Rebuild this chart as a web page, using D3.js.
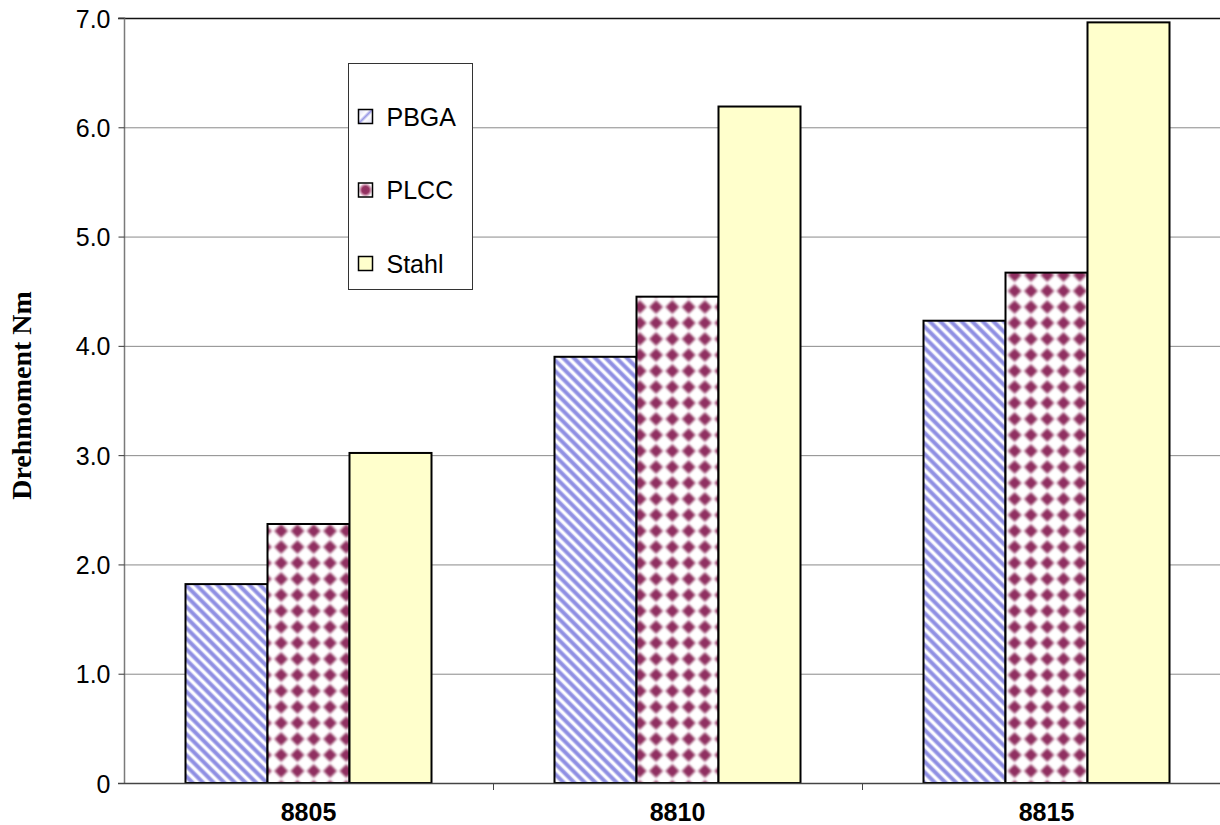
<!DOCTYPE html>
<html>
<head>
<meta charset="utf-8">
<script src="https://cdn.jsdelivr.net/npm/d3@7"></script>
<style>
  html, body { margin: 0; padding: 0; background: #fff; }
  svg { display: block; }
</style>
</head>
<body>
<svg id="chart" width="1220" height="825"></svg>
<script>
// Torque per test board type
const categories = ["8805", "8810", "8815"];
const seriesNames = ["PBGA", "PLCC", "Stahl"];
const pbgaValues  = [1.82, 3.90, 4.23];
const plccValues  = [2.37, 4.45, 4.67];
const stahlValues = [3.02, 6.19, 6.96];
const yTicks = [0, 1, 2, 3, 4, 5, 6, 7];
const yTitle = "Drehmoment Nm";

const seriesValues = [pbgaValues, plccValues, stahlValues];

const svg = d3.select("#chart");
const W = 1220, H = 825;
const plot = { left: 124, right: 1231, top: 18, bottom: 783 };

const x = d3.scaleBand().domain(categories).range([plot.left, plot.right]);
const inner = d3.scaleBand().domain(seriesNames)
  .range([0, x.bandwidth() * 2 / 3]);
const y = d3.scaleLinear().domain([0, 7]).range([plot.bottom, plot.top]);

// fill patterns
const defs = svg.append("defs");
const soft = defs.append("filter").attr("id", "soft")
  .attr("x", "-30%").attr("y", "-30%").attr("width", "160%").attr("height", "160%");
soft.append("feGaussianBlur").attr("stdDeviation", 1.2);

const stripe = defs.append("pattern").attr("id", "pat-stripe")
  .attr("patternUnits", "userSpaceOnUse")
  .attr("width", 7.5).attr("height", 7.5)
  .attr("patternTransform", "rotate(-45)");
stripe.append("rect").attr("width", 7.5).attr("height", 7.5).attr("fill", "#ffffff");
stripe.append("rect").attr("x", 0.4).attr("width", 4.6).attr("height", 7.5)
  .attr("fill", "#b4b4ee");
stripe.append("rect").attr("x", 1.3).attr("width", 2.8).attr("height", 7.5)
  .attr("fill", "#8e8ee2");

const dotStep = 16.3, dotRow = 16;
const diam = defs.append("pattern").attr("id", "pat-dots")
  .attr("patternUnits", "userSpaceOnUse")
  .attr("x", 273).attr("y", 619)
  .attr("width", dotStep).attr("height", dotRow);
diam.append("rect").attr("width", dotStep).attr("height", dotRow).attr("fill", "#ffffff");
const dg = diam.append("g").attr("filter", "url(#soft)");
// a dot in the cell centre plus copies on neighbouring cells, so blur wraps cleanly
[[0.5, 0.5], [-0.5, 0.5], [1.5, 0.5], [0.5, -0.5], [0.5, 1.5]].forEach(([fx, fy]) => {
  const cx = fx * dotStep, cy = fy * dotRow;
  dg.append("path")
    .attr("d", `M${cx},${cy - 7.6} L${cx + 7.6},${cy} L${cx},${cy + 7.6} L${cx - 7.6},${cy} Z`)
    .attr("fill", "#d4a3bb");
  dg.append("path")
    .attr("d", `M${cx},${cy - 6.4} L${cx + 6.4},${cy} L${cx},${cy + 6.4} L${cx - 6.4},${cy} Z`)
    .attr("fill", "#923163");
  dg.append("circle").attr("cx", cx).attr("cy", cy).attr("r", 4.6)
    .attr("fill", "#8f2f61");
});

const fills = ["url(#pat-stripe)", "url(#pat-dots)", "#ffffcc"];

// gridlines
svg.append("g")
  .selectAll("line").data(yTicks.filter(d => d > 0 && d < 7)).join("line")
  .attr("x1", plot.left).attr("x2", W)
  .attr("y1", d => y(d) + 0.5).attr("y2", d => y(d) + 0.5)
  .attr("stroke", "#8a8a8a").attr("stroke-width", 1);

// top border
svg.append("line")
  .attr("x1", plot.left - 6).attr("x2", W)
  .attr("y1", y(7) + 0.5).attr("y2", y(7) + 0.5)
  .attr("stroke", "#111").attr("stroke-width", 1.5);

// bars
const groups = svg.append("g").selectAll("g").data(seriesNames).join("g")
  .attr("fill", (d, i) => fills[i]);
groups.selectAll("rect")
  .data((s, si) => categories.map((c, ci) => ({ c, s, v: seriesValues[si][ci] })))
  .join("rect")
  .attr("x", d => x(d.c) + x.bandwidth() / 6 + inner(d.s))
  .attr("y", d => y(d.v))
  .attr("width", inner.bandwidth())
  .attr("height", d => y(0) - y(d.v))
  .attr("stroke", "#000")
  .attr("stroke-width", 2);

// y axis
const yAxis = d3.axisLeft(y).tickValues(yTicks)
  .tickFormat(d => d === 0 ? "0" : d3.format(".1f")(d))
  .tickSize(6).tickPadding(8);
const gy = svg.append("g").attr("transform", `translate(${plot.left + 0.5},0)`).call(yAxis);
gy.select(".domain").attr("stroke", "#7a7a7a").attr("stroke-width", 1.5)
  .attr("d", `M-6,${y(7)}H0V${y(0)}`);
gy.selectAll(".tick line").attr("stroke", "#333");
gy.selectAll(".tick text")
  .attr("font-family", "Arial, 'Liberation Sans', sans-serif")
  .attr("font-size", 25).attr("fill", "#000").attr("dy", "0.36em");

// x axis
const xAxis = d3.axisBottom(x).tickSize(0).tickPadding(14);
const gx = svg.append("g").attr("transform", `translate(0,${plot.bottom + 0.5})`).call(xAxis);
gx.select(".domain").attr("stroke", "#444").attr("stroke-width", 1.5)
  .attr("d", `M${plot.left - 6},0H${plot.right}`);
gx.selectAll(".tick text")
  .attr("font-family", "Arial, 'Liberation Sans', sans-serif")
  .attr("font-weight", "bold").attr("font-size", 25).attr("fill", "#000")
  .attr("dy", "0.95em");
// category boundary ticks
svg.append("g").selectAll("line").data(categories.slice(1)).join("line")
  .attr("x1", d => x(d) + 0.5).attr("x2", d => x(d) + 0.5)
  .attr("y1", plot.bottom).attr("y2", plot.bottom + 7)
  .attr("stroke", "#444").attr("stroke-width", 1);

// y axis title
svg.append("text")
  .attr("transform", `translate(31,${(y(0) + y(7)) / 2 - 5}) rotate(-90)`)
  .attr("text-anchor", "middle")
  .attr("font-family", "'Times New Roman', 'Liberation Serif', serif")
  .attr("font-weight", "bold").attr("font-size", 28)
  .text(yTitle);

// small swatch fills for the legend
const lgS = defs.append("linearGradient").attr("id", "legStripe")
  .attr("x1", 0).attr("y1", 0).attr("x2", 1).attr("y2", 1);
lgS.append("stop").attr("offset", "0%").attr("stop-color", "#d8d8f6");
lgS.append("stop").attr("offset", "38%").attr("stop-color", "#ffffff");
lgS.append("stop").attr("offset", "50%").attr("stop-color", "#9a9ae6");
lgS.append("stop").attr("offset", "62%").attr("stop-color", "#ffffff");
lgS.append("stop").attr("offset", "100%").attr("stop-color", "#d8d8f6");
const lgD = defs.append("radialGradient").attr("id", "legDot");
lgD.append("stop").attr("offset", "0%").attr("stop-color", "#8e2d60");
lgD.append("stop").attr("offset", "50%").attr("stop-color", "#963463");
lgD.append("stop").attr("offset", "85%").attr("stop-color", "#e6c0d2");
lgD.append("stop").attr("offset", "100%").attr("stop-color", "#ffffff");

// legend
const legend = svg.append("g").attr("transform", "translate(348.5,63.5)");
legend.append("rect").attr("width", 124).attr("height", 226)
  .attr("fill", "#fff").attr("stroke", "#333").attr("stroke-width", 1);
const items = legend.selectAll("g.item").data(seriesNames).join("g")
  .attr("class", "item")
  .attr("transform", (d, i) => `translate(10,${46 + i * 73.5})`);
items.append("rect").attr("width", 14).attr("height", 14)
  .attr("fill", (d, i) => i === 0 ? "url(#legStripe)" : i === 1 ? "url(#legDot)" : fills[i])
  .attr("stroke", "#000").attr("stroke-width", 1.5);
items.append("text").attr("x", 28).attr("y", 16)
  .attr("font-family", "Arial, 'Liberation Sans', sans-serif")
  .attr("font-size", 25).attr("fill", "#000")
  .text(d => d);
</script>
</body>
</html>
